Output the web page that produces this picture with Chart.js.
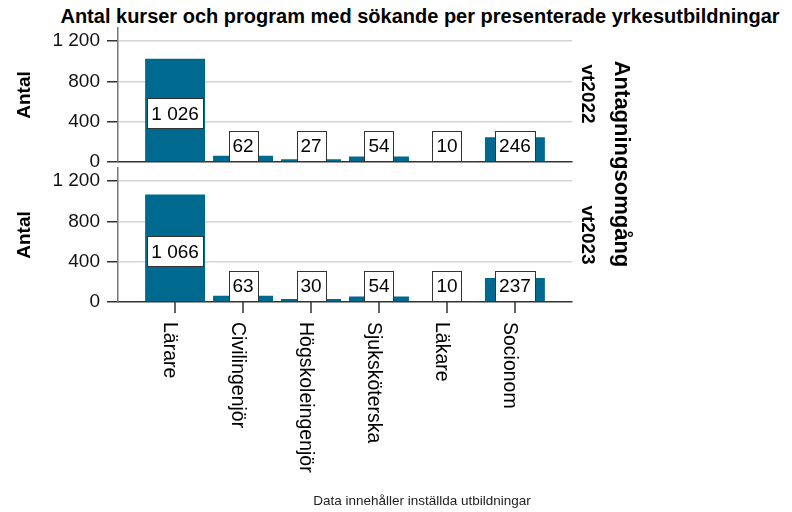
<!DOCTYPE html>
<html>
<head>
<meta charset="utf-8">
<script src="https://cdn.jsdelivr.net/npm/chart.js@4.4.1/dist/chart.umd.min.js"></script>
<style>
  body { margin: 0; background: #fff; }
  #wrap { position: relative; width: 792px; height: 512px; overflow: hidden;
          font-family: "Liberation Sans", Arial, sans-serif; color: #000; }
  canvas { position: absolute; left: 0; }
  .txt { position: absolute; white-space: nowrap; }
  .rot { transform: translate(-50%, -50%) rotate(90deg); font-weight: bold; }
</style>
</head>
<body>
<div id="wrap">
  <div class="txt" style="left:420px;top:5px;transform:translateX(-50%);font-weight:bold;font-size:20px;line-height:22px">Antal kurser och program med sökande per presenterade yrkesutbildningar</div>
  <canvas id="topChart" width="792" height="180" style="top:0;width:792px;height:180px"></canvas>
  <canvas id="bottomChart" width="792" height="347" style="top:165px;width:792px;height:347px"></canvas>
  <div class="txt rot" style="left:588px;top:94px;font-size:19px">vt2022</div>
  <div class="txt rot" style="left:588px;top:235px;font-size:19px">vt2023</div>
  <div class="txt rot" style="left:622px;top:164px;font-size:22px">Antagningsomgång</div>
  <div class="txt" style="left:422px;top:493px;transform:translateX(-50%);font-size:13.5px;color:#222">Data innehåller inställda utbildningar</div>
</div>
<script>
// data
const categories = ['Lärare', 'Civilingenjör', 'Högskoleingenjör', 'Sjuksköterska', 'Läkare', 'Socionom'];
const vt2022 = [1026, 62, 27, 54, 10, 246];
const vt2023 = [1066, 63, 30, 54, 10, 237];
const yTicks = [0, 400, 800, 1200];

const FONT = '"Liberation Sans", Arial, sans-serif';
const barColor = '#00698f';

// 1026 -> "1 026"
function fmt(v) {
    return String(v).replace(/\B(?=(\d{3})+(?!\d))/g, ' ');
}

// white boxes with the values
const valueBoxes = {
    id: 'valueBoxes',
    afterDatasetsDraw(chart) {
        const ctx = chart.ctx;
        const y = chart.scales.y;
        const zero = y.getPixelForValue(0);
        const meta = chart.getDatasetMeta(0);
        ctx.save();
        ctx.font = '19px ' + FONT;
        ctx.textAlign = 'center';
        ctx.textBaseline = 'middle';
        meta.data.forEach((bar, i) => {
            const txt = fmt(chart.data.datasets[0].data[i].y);
            const h = zero - bar.y;
            const cy = zero - Math.max(h / 2 - 3, 16);
            const w = Math.round(ctx.measureText(txt).width + 8);
            const bh = 30;
            const left = Math.round(bar.x - w / 2);
            const top = Math.round(cy - bh / 2);
            ctx.fillStyle = '#fff';
            ctx.fillRect(left, top, w, bh);
            ctx.strokeStyle = '#333';
            ctx.lineWidth = 1;
            ctx.strokeRect(left + 0.5, top + 0.5, w, bh);
            ctx.fillStyle = '#000';
            ctx.fillText(txt, bar.x, cy + 1);
        });
        ctx.restore();
    }
};

// tick marks and category names, turned clockwise, under the lower panel
const xLabels = {
    id: 'xLabels',
    afterDraw(chart) {
        const ctx = chart.ctx;
        const x = chart.scales.x;
        ctx.save();
        ctx.strokeStyle = '#333';
        ctx.lineWidth = 1.5;
        ctx.font = '19.5px ' + FONT;
        ctx.fillStyle = '#000';
        ctx.textAlign = 'left';
        ctx.textBaseline = 'alphabetic';
        categories.forEach((c, i) => {
            const px = Math.round(x.getPixelForValue(i));
            ctx.beginPath();
            ctx.moveTo(px, x.top);
            ctx.lineTo(px, x.top + 11);
            ctx.stroke();
            ctx.save();
            ctx.translate(px - 11, x.top + 20);
            ctx.rotate(Math.PI / 2);
            ctx.fillText(c, 0, 0);
            ctx.restore();
        });
        ctx.restore();
    }
};

function makePanel(id, values, showX) {
    const ctx = document.getElementById(id).getContext('2d');
    return new Chart(ctx, {
        type: 'bar',
        data: {
            datasets: [{
                data: categories.map((c, i) => ({ x: i, y: values[i] })),
                backgroundColor: barColor,
                borderWidth: 0,
                barPercentage: 0.882,
                categoryPercentage: 1
            }]
        },
        options: {
            responsive: false,
            animation: false,
            events: [],
            layout: {
                padding: showX ? { top: 3, right: 220, bottom: 0, left: 0 }
                               : { top: 28, right: 220, bottom: 18, left: 0 }
            },
            plugins: {
                legend: { display: false },
                tooltip: { enabled: false }
            },
            scales: {
                x: {
                    type: 'linear',
                    offset: false,
                    min: -0.84,
                    max: 5.84,
                    afterBuildTicks: s => { s.ticks = categories.map((c, i) => ({ value: i })); },
                    afterFit: s => {
                        s.height = showX ? 210 : 0;
                        s.paddingLeft = 0;
                        s.paddingRight = 0;
                    },
                    ticks: { display: false },
                    grid: {
                        offset: false,
                        drawOnChartArea: false,
                        drawTicks: false,
                        lineWidth: 1.5
                    },
                    border: { color: '#333', width: 1.5 }
                },
                y: {
                    min: 0,
                    max: 1330,
                    afterFit: s => {
                        s.width = 118;
                        s.paddingTop = 0;
                        s.paddingBottom = 0;
                    },
                    ticks: {
                        stepSize: 200,
                        includeBounds: false,
                        padding: 7,
                        color: '#111',
                        font: { size: 19, family: FONT },
                        callback: v => yTicks.includes(v) ? fmt(v) : ''
                    },
                    grid: {
                        color: c => (c.tick && c.tick.value === 0) ? 'rgba(0,0,0,0)' : '#d4d4d4',
                        lineWidth: 1.5,
                        tickLength: 11,
                        tickColor: c => (c.tick && yTicks.includes(c.tick.value)) ? '#333' : 'rgba(0,0,0,0)'
                    },
                    border: { color: '#777', width: 1.5 },
                    title: {
                        display: true,
                        text: 'Antal',
                        color: '#000',
                        font: { size: 19, weight: 'bold', family: FONT },
                        padding: { top: 13, bottom: 0 }
                    }
                }
            }
        },
        plugins: showX ? [valueBoxes, xLabels] : [valueBoxes]
    });
}

makePanel('topChart', vt2022, false);
makePanel('bottomChart', vt2023, true);
</script>
</body>
</html>
